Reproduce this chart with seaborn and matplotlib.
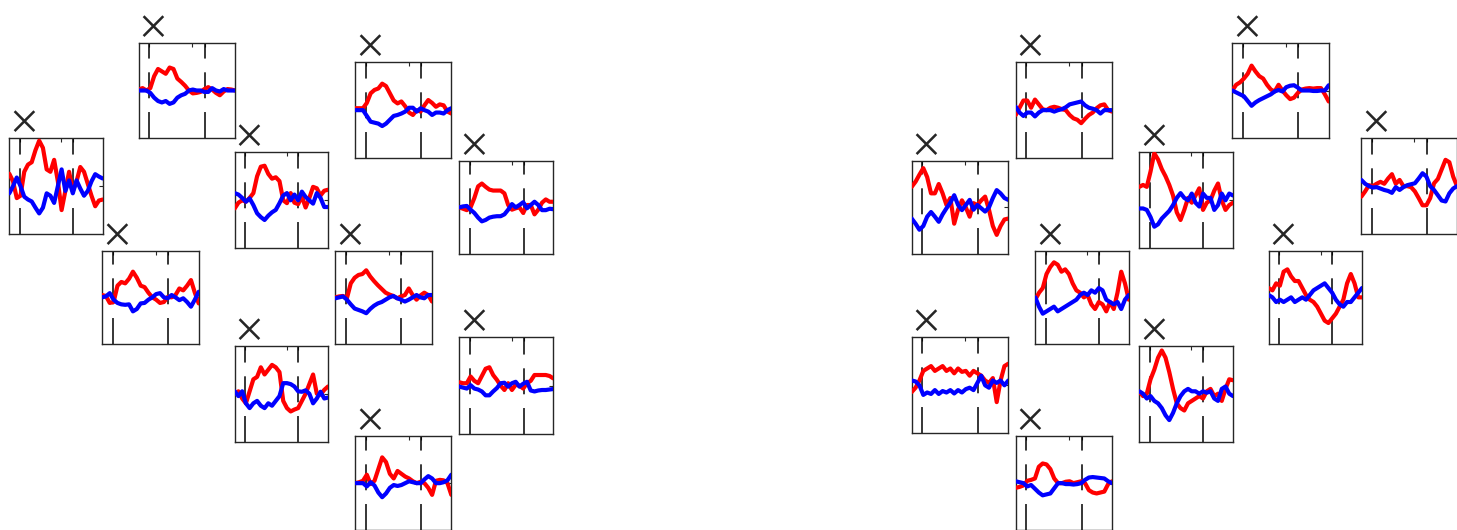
import numpy as np
import pandas as pd
import matplotlib
matplotlib.use("Agg")
import matplotlib.pyplot as plt
import seaborn as sns

# time axis (ms) shared by every panel
time = np.arange(-100, 801, 36)

# ---- left group ----
L1_red = [0.26, 0.1, -0.25, -0.2, 0.3, 0.45, 0.5, 0.75, 0.95, 0.8, 0.35, 0.3, 0.55, 0.1, -0.5, -0.1, 0.3, -0.1, 0.1, 0.4, 0.3, 0.05, -0.2, -0.42, -0.3, -0.28]
L1_blue = [-0.15, 0.0, 0.18, 0.0, -0.22, -0.28, -0.32, -0.45, -0.57, -0.45, -0.15, -0.2, -0.35, 0.0, 0.35, -0.1, 0.12, -0.15, 0.12, -0.05, -0.2, -0.1, 0.1, 0.25, 0.2, 0.16]
L2_red = [0.02, 0.05, 0.0, 0.05, 0.3, 0.45, 0.4, 0.35, 0.48, 0.45, 0.25, 0.18, 0.1, 0.0, -0.06, -0.05, -0.03, 0.03, 0.07, 0.02, -0.05, -0.1, -0.02, 0.03, 0.02, 0.0]
L2_blue = [0.0, 0.0, 0.0, -0.05, -0.15, -0.22, -0.25, -0.22, -0.28, -0.25, -0.15, -0.1, -0.07, 0.0, 0.02, 0.0, 0.0, -0.03, -0.03, 0.05, 0.0, -0.02, 0.03, 0.0, 0.0, 0.0]
L3_red = [0.05, 0.03, -0.12, -0.1, 0.25, 0.33, 0.3, 0.4, 0.55, 0.42, 0.25, 0.22, 0.1, 0.0, -0.05, -0.12, -0.1, 0.01, 0.0, 0.05, 0.19, 0.15, 0.25, 0.37, 0.1, -0.13]
L3_blue = [0.0, 0.02, 0.09, -0.05, -0.12, -0.15, -0.16, -0.15, -0.3, -0.25, -0.13, -0.12, -0.05, 0.0, 0.07, 0.09, 0.0, -0.02, 0.05, 0.0, -0.06, -0.02, -0.1, -0.2, -0.05, 0.12]
L4_red = [-0.17, -0.05, 0.0, -0.03, 0.05, 0.15, 0.5, 0.7, 0.72, 0.55, 0.45, 0.48, 0.4, 0.0, -0.06, 0.15, -0.05, -0.08, 0.08, -0.15, 0.05, 0.28, 0.25, 0.1, 0.2, 0.22]
L4_blue = [0.15, 0.12, 0.05, -0.03, 0.04, -0.1, -0.27, -0.35, -0.41, -0.32, -0.25, -0.2, -0.06, 0.1, 0.15, 0.0, 0.12, 0.0, 0.18, 0.07, 0.0, -0.07, 0.15, 0.05, -0.14, -0.14]
L5_red = [0.0, 0.05, -0.1, -0.2, 0.05, 0.3, 0.35, 0.55, 0.4, 0.5, 0.6, 0.55, 0.45, -0.15, -0.3, -0.37, -0.33, -0.3, -0.15, 0.0, 0.2, 0.4, 0.0, -0.02, 0.08, 0.15]
L5_blue = [0.05, -0.05, 0.05, -0.2, -0.3, -0.2, -0.15, -0.25, -0.3, -0.2, -0.25, -0.15, -0.05, 0.22, 0.22, 0.2, 0.15, 0.05, 0.04, 0.07, 0.0, -0.2, -0.1, 0.04, -0.1, -0.08]
L6_red = [0.04, 0.04, 0.04, 0.15, 0.35, 0.42, 0.45, 0.55, 0.5, 0.35, 0.2, 0.14, 0.18, 0.08, -0.05, -0.1, 0.0, -0.03, 0.1, 0.21, 0.15, 0.07, 0.12, 0.1, -0.03, -0.07]
L6_blue = [0.0, 0.0, 0.0, -0.12, -0.24, -0.26, -0.28, -0.33, -0.28, -0.2, -0.12, -0.1, -0.07, -0.03, 0.05, 0.05, -0.03, 0.04, 0.0, -0.03, -0.1, -0.05, -0.05, -0.07, 0.0, 0.04]
L7_red = [0.0, 0.02, 0.03, -0.02, 0.3, 0.42, 0.48, 0.5, 0.58, 0.45, 0.35, 0.26, 0.18, 0.1, 0.06, 0.03, -0.02, 0.02, 0.05, 0.19, 0.05, -0.05, 0.04, 0.1, 0.05, -0.09]
L7_blue = [-0.02, 0.0, 0.02, -0.05, -0.15, -0.24, -0.27, -0.3, -0.34, -0.25, -0.18, -0.13, -0.1, -0.05, 0.0, 0.03, -0.02, -0.05, -0.09, -0.05, 0.0, 0.05, 0.0, -0.02, 0.05, 0.05]
L8_red = [0.0, 0.02, 0.05, 0.18, -0.02, 0.05, 0.3, 0.55, 0.45, 0.2, 0.1, 0.26, 0.2, 0.14, 0.1, 0.04, 0.0, 0.03, 0.0, -0.1, -0.25, 0.05, 0.07, 0.06, 0.0, -0.25]
L8_blue = [0.0, 0.0, 0.0, -0.07, 0.02, -0.05, -0.2, -0.3, -0.22, -0.1, -0.04, -0.06, -0.04, 0.0, 0.04, 0.02, 0.0, 0.0, 0.08, 0.15, 0.1, 0.0, 0.0, 0.02, 0.06, 0.18]
L9_red = [0.0, -0.03, -0.06, 0.0, 0.2, 0.45, 0.51, 0.44, 0.38, 0.36, 0.36, 0.36, 0.3, 0.05, -0.05, -0.02, 0.0, -0.12, 0.05, 0.05, -0.15, -0.05, 0.1, 0.17, 0.12, 0.12]
L9_blue = [0.0, 0.02, 0.03, -0.05, -0.12, -0.22, -0.3, -0.27, -0.22, -0.2, -0.19, -0.19, -0.15, -0.05, 0.07, 0.0, 0.05, 0.11, -0.02, 0.05, 0.12, 0.05, -0.06, -0.06, -0.03, -0.04]
L10_red = [0.07, 0.05, 0.05, 0.19, 0.1, 0.05, 0.2, 0.35, 0.38, 0.22, 0.12, 0.0, -0.09, 0.05, -0.09, 0.02, 0.0, -0.06, 0.05, 0.1, 0.22, 0.22, 0.22, 0.22, 0.2, 0.15]
L10_blue = [-0.02, -0.04, -0.06, 0.01, -0.06, -0.08, -0.12, -0.2, -0.2, -0.12, -0.05, 0.05, 0.06, -0.02, 0.05, 0.08, -0.02, 0.04, 0.08, -0.1, -0.12, -0.1, -0.09, -0.09, -0.08, -0.07]

# ---- right group ----
R1_red = [0.44, 0.55, 0.7, 0.84, 0.65, 0.3, 0.3, 0.5, 0.3, 0.05, 0.2, -0.35, -0.05, 0.15, 0.0, -0.2, 0.09, 0.05, 0.15, 0.23, -0.05, -0.4, -0.59, -0.4, -0.26, -0.24]
R1_blue = [-0.24, -0.35, -0.48, -0.4, -0.2, -0.1, -0.2, -0.31, -0.15, -0.02, 0.1, 0.26, 0.05, -0.06, 0.05, 0.16, -0.05, 0.05, -0.02, -0.09, 0.0, 0.2, 0.37, 0.3, 0.2, 0.16]
R2_red = [-0.1, 0.05, 0.2, 0.2, 0.05, 0.22, 0.12, 0.02, 0.0, 0.05, 0.07, 0.05, 0.02, 0.0, -0.1, -0.17, -0.2, -0.27, -0.18, -0.1, -0.05, 0.04, 0.1, 0.12, 0.0, -0.03]
R2_blue = [0.07, -0.05, -0.12, -0.05, -0.05, -0.13, -0.05, 0.0, 0.0, 0.0, -0.03, 0.0, 0.02, 0.06, 0.12, 0.14, 0.16, 0.18, 0.1, 0.05, 0.03, 0.0, -0.07, 0.0, 0.0, 0.0]
R3_red = [-0.05, 0.1, 0.2, 0.5, 0.65, 0.75, 0.7, 0.55, 0.6, 0.5, 0.3, 0.15, 0.1, 0.0, 0.05, -0.15, -0.25, -0.1, -0.15, -0.3, -0.1, -0.25, 0.1, 0.55, 0.3, -0.05]
R3_blue = [0.0, -0.2, -0.35, -0.3, -0.25, -0.2, -0.3, -0.25, -0.2, -0.15, -0.1, -0.05, 0.05, 0.1, 0.05, 0.15, 0.1, 0.2, 0.15, -0.05, -0.1, -0.15, -0.1, -0.25, -0.05, 0.05]
R4_red = [-0.14, -0.05, 0.1, 0.3, 0.35, 0.4, 0.3, 0.35, 0.4, 0.3, 0.35, 0.25, 0.35, 0.28, 0.3, 0.2, 0.3, 0.25, 0.2, 0.1, 0.05, 0.15, -0.35, 0.1, 0.4, 0.45]
R4_blue = [0.1, 0.08, 0.0, -0.2, -0.15, -0.18, -0.1, -0.18, -0.12, -0.15, -0.1, -0.17, -0.1, -0.15, -0.08, -0.05, -0.1, 0.05, 0.2, 0.0, -0.05, 0.1, 0.05, 0.1, 0.0, 0.1]
R5_red = [-0.1, -0.08, -0.05, 0.05, 0.07, 0.1, 0.35, 0.42, 0.4, 0.3, 0.1, 0.0, 0.0, 0.03, 0.04, 0.0, 0.02, 0.04, 0.0, -0.15, -0.2, -0.22, -0.2, -0.18, -0.02, 0.04]
R5_blue = [0.04, 0.02, 0.0, -0.07, -0.04, -0.12, -0.2, -0.26, -0.24, -0.22, -0.11, 0.0, 0.0, -0.02, -0.02, -0.03, -0.02, 0.0, 0.07, 0.12, 0.13, 0.12, 0.11, 0.1, 0.04, 0.0]
R6_red = [0.28, 0.32, 0.28, 0.6, 0.98, 0.85, 0.65, 0.5, 0.32, 0.1, -0.25, -0.41, -0.2, 0.05, -0.05, 0.1, 0.25, -0.2, -0.05, 0.0, 0.2, 0.35, 0.0, -0.2, -0.1, -0.05]
R6_blue = [-0.17, -0.17, -0.2, -0.35, -0.55, -0.5, -0.38, -0.3, -0.22, -0.1, 0.05, 0.15, 0.05, 0.0, 0.14, -0.05, -0.13, 0.14, 0.05, 0.05, -0.2, -0.1, 0.14, 0.0, 0.14, 0.1]
R7_red = [0.04, -0.05, 0.0, 0.3, 0.5, 0.75, 0.9, 0.75, 0.45, 0.1, -0.2, -0.3, -0.35, -0.2, -0.15, -0.1, -0.05, -0.1, 0.05, 0.1, -0.05, 0.0, -0.15, 0.1, 0.3, 0.28]
R7_blue = [0.05, 0.0, -0.1, -0.05, -0.15, -0.2, -0.3, -0.45, -0.55, -0.4, -0.2, -0.05, 0.05, 0.1, 0.05, 0.05, 0.0, 0.05, 0.02, 0.05, -0.1, -0.15, 0.1, 0.15, 0.0, -0.05]
R8_red = [0.0, 0.12, 0.17, 0.25, 0.35, 0.52, 0.4, 0.3, 0.25, 0.12, 0.02, -0.02, 0.12, 0.0, -0.1, -0.18, -0.15, -0.05, 0.02, 0.04, 0.05, 0.04, 0.05, 0.05, -0.08, -0.23]
R8_blue = [0.0, -0.04, -0.08, -0.12, -0.22, -0.32, -0.25, -0.2, -0.16, -0.12, -0.08, -0.02, 0.01, -0.02, 0.07, 0.1, 0.11, 0.06, 0.0, 0.0, 0.0, -0.01, -0.01, 0.0, 0.0, 0.11]
R9_red = [0.2, 0.15, 0.3, 0.25, 0.55, 0.6, 0.45, 0.35, 0.35, 0.2, 0.05, -0.05, -0.1, -0.2, -0.35, -0.5, -0.55, -0.45, -0.35, -0.2, -0.05, 0.3, 0.5, 0.3, 0.0, 0.0]
R9_blue = [0.05, 0.0, -0.1, -0.05, -0.1, -0.05, 0.0, -0.1, -0.05, 0.0, -0.05, 0.05, 0.15, 0.2, 0.25, 0.3, 0.2, 0.1, -0.05, -0.15, -0.2, -0.1, -0.1, 0.0, 0.1, 0.2]
R10_red = [-0.22, -0.11, 0.02, 0.0, 0.05, 0.09, 0.05, 0.16, 0.25, 0.05, 0.13, 0.0, 0.0, -0.02, -0.11, -0.25, -0.4, -0.4, -0.25, 0.06, 0.15, 0.35, 0.55, 0.5, 0.2, 0.0]
R10_blue = [0.13, 0.05, 0.0, -0.03, -0.02, -0.05, -0.08, -0.1, -0.14, -0.02, -0.08, -0.02, 0.02, 0.04, 0.06, 0.16, 0.27, 0.2, 0.0, -0.08, -0.19, -0.3, -0.32, -0.15, -0.05, 0.0]

# panel boxes in pixels: left, top, width, height
panels = [
    (L1_red, L1_blue, 9.3, 138.3, 93.4, 95.7),
    (L2_red, L2_blue, 138.7, 42.7, 96.6, 95.6),
    (L3_red, L3_blue, 102.0, 250.7, 96.7, 93.3),
    (L4_red, L4_blue, 234.7, 152.3, 93.3, 96.0),
    (L5_red, L5_blue, 234.7, 345.7, 93.3, 96.0),
    (L6_red, L6_blue, 355.3, 62.0, 96.0, 96.3),
    (L7_red, L7_blue, 335.3, 250.7, 96.7, 93.3),
    (L8_red, L8_blue, 355.3, 436.3, 96.0, 93.7),
    (L9_red, L9_blue, 459.3, 160.7, 94.0, 93.3),
    (L10_red, L10_blue, 459.3, 337.3, 94.0, 96.7),
    (R1_red, R1_blue, 911.7, 160.7, 96.6, 93.3),
    (R2_red, R2_blue, 1015.7, 62.0, 96.3, 96.3),
    (R3_red, R3_blue, 1035.3, 250.7, 93.4, 93.3),
    (R4_red, R4_blue, 911.7, 337.3, 96.6, 96.0),
    (R5_red, R5_blue, 1015.7, 436.3, 96.3, 93.7),
    (R6_red, R6_blue, 1139.3, 152.3, 93.7, 96.0),
    (R7_red, R7_blue, 1139.3, 345.7, 93.7, 96.0),
    (R8_red, R8_blue, 1232.3, 42.7, 96.4, 95.6),
    (R9_red, R9_blue, 1268.7, 250.7, 93.3, 93.3),
    (R10_red, R10_blue, 1361.3, 138.3, 95.7, 95.7),
]

sns.set_style("white")
W, H = 1457, 530
fig = plt.figure(figsize=(W / 100, H / 100), dpi=100)

for red, blue, x0, y0, w, h in panels:
    ax = fig.add_axes([x0 / W, 1 - (y0 + h) / H, w / W, h / H])
    df = pd.DataFrame({"t": time, "red": red, "blue": blue})
    ax.axvline(0, color="k", lw=1.1, ls=(0, (17, 9)), zorder=1)
    ax.axvline(515, color="k", lw=1.1, ls=(0, (17, 9)), zorder=1)
    sns.lineplot(data=df, x="t", y="red", color="#ff0000", lw=3.0, ax=ax, zorder=3,
                 solid_joinstyle="round", solid_capstyle="round")
    sns.lineplot(data=df, x="t", y="blue", color="#0000ff", lw=3.0, ax=ax, zorder=3,
                 solid_joinstyle="round", solid_capstyle="round")
    ax.set_xlim(-100, 800)
    ax.set_ylim(-1, 1)
    ax.set_xticks([0, 400, 515])
    ax.set_yticks([0])
    ax.set_xlabel("")
    ax.set_ylabel("")
    ax.tick_params(direction="in", top=True, right=True, length=3, width=0.8,
                   color="#262626", labelbottom=False, labelleft=False)
    for s in ax.spines.values():
        s.set_color("#262626")
        s.set_linewidth(1.0)
    ax.text(0.15, 1 + 20.5 / h, "\u00d7", transform=ax.transAxes, ha="center",
            va="center_baseline", fontsize=28, color="#262626",
            family=["STIXGeneral", "DejaVu Sans"])

fig.savefig("out.png", dpi=100)
